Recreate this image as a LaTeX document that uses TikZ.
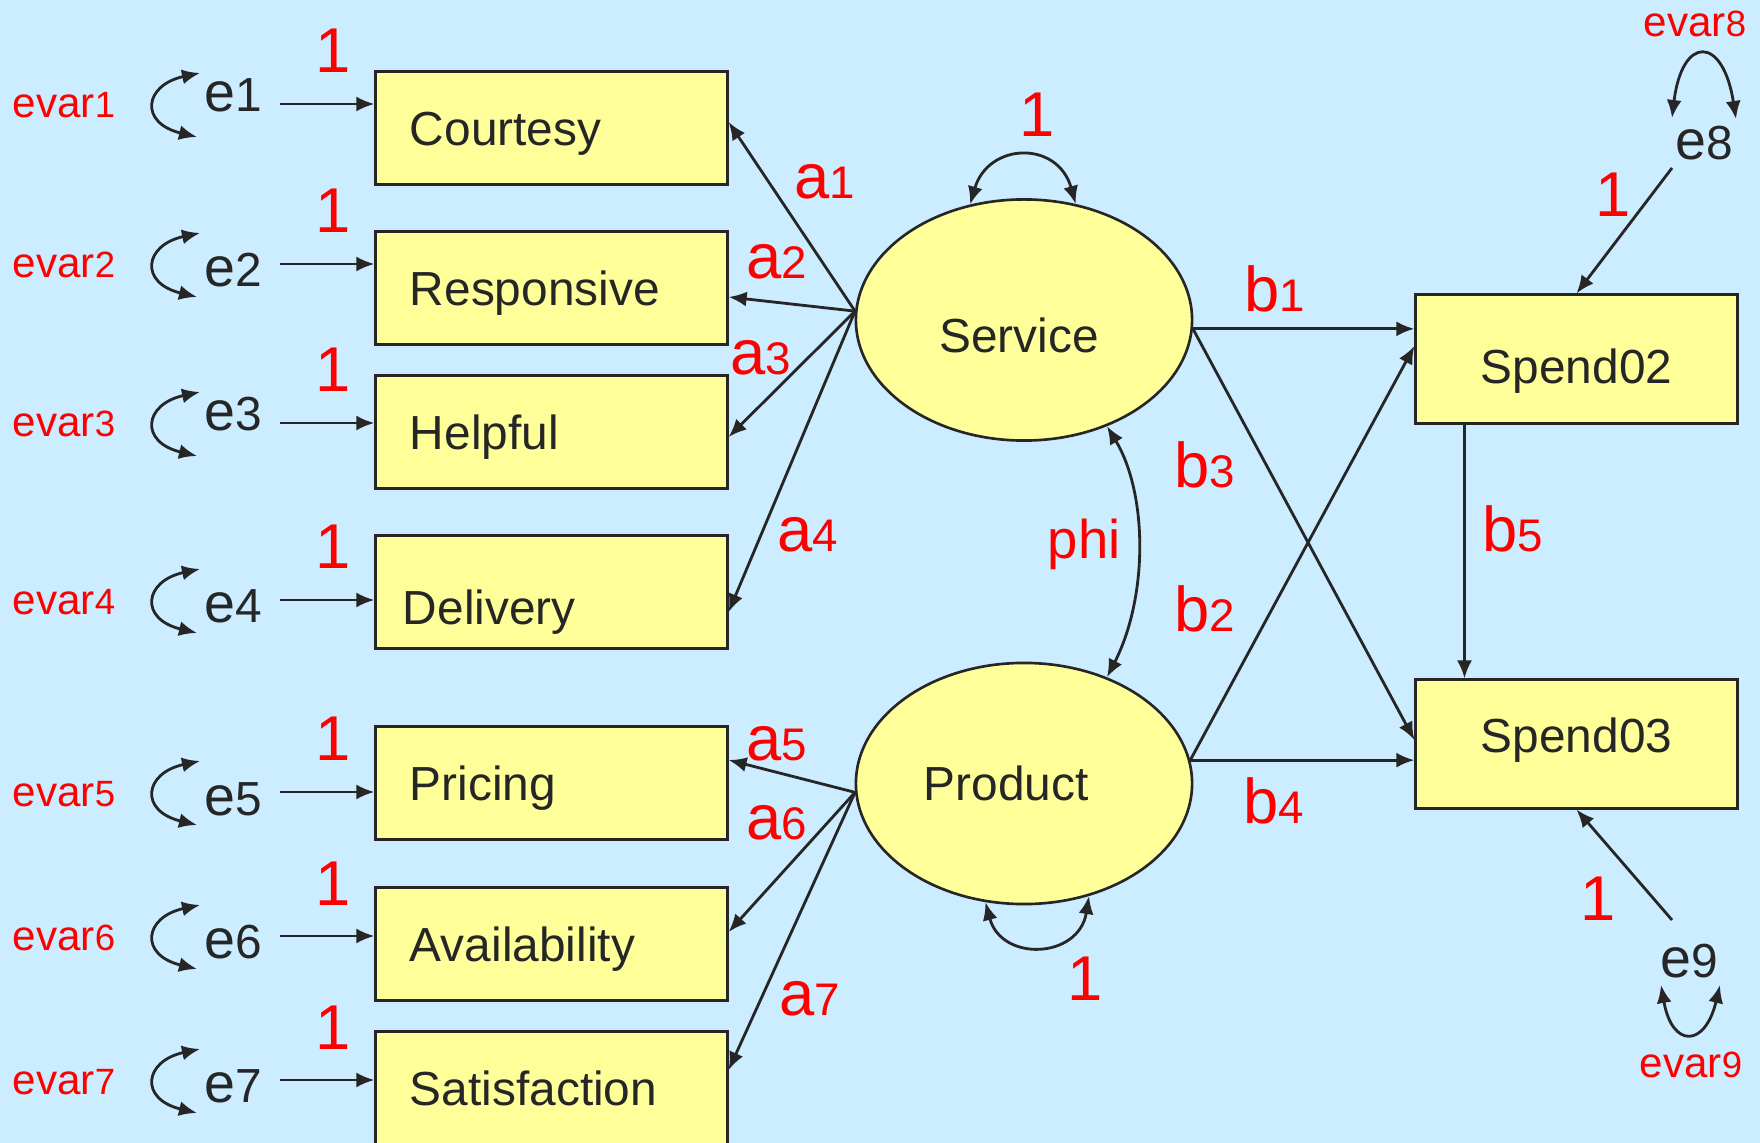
\documentclass[tikz,border=0pt]{standalone}
\usepackage{fontspec}
\setmainfont{Liberation Sans}
\usetikzlibrary{arrows.meta}
\usetikzlibrary{calc}
\usetikzlibrary{shapes.geometric}
\definecolor{bgblue}{RGB}{204,236,255}
\definecolor{boxyellow}{RGB}{255,255,153}
\definecolor{ink}{RGB}{38,38,38}
\definecolor{parred}{RGB}{255,0,0}

% letters and index digit in two sizes
\newcommand{\twosize}[4]{{\fontsize{#1}{#1}\selectfont #3}{\fontsize{#2}{#2}\selectfont #4}}

\tikzset{
  obs/.style={rectangle,draw=ink,line width=0.85pt,fill=boxyellow,text=ink,
    minimum width=3.51cm,minimum height=1.12cm,inner sep=0pt,
    font=\fontsize{13.6}{16}\selectfont,text depth=0.1cm,text height=0.44cm},
  leftbox/.style={obs,text width=2.83cm,align=left},
  latent/.style={ellipse,draw=ink,line width=0.75pt,fill=boxyellow,text=ink,
    minimum width=3.36cm,minimum height=2.41cm,inner sep=0pt,
    font=\fontsize{13.6}{16}\selectfont,text depth=0.1cm,text height=0.44cm},
  arrowline/.style={draw=ink,line width=0.8pt,-{Latex[length=0.18cm,width=0.15cm]}},
  cov/.style={draw=ink,line width=0.8pt,{Latex[length=0.18cm,width=0.15cm]}-{Latex[length=0.18cm,width=0.15cm]}},
  coef/.style={text=parred,inner sep=0pt,anchor=base west},
  fixone/.style={text=parred,inner sep=0pt,anchor=base,font=\fontsize{18}{18}\selectfont},
  errname/.style={text=ink,inner sep=0pt,anchor=base west},
}

\begin{document}
\begin{tikzpicture}[x=0.01cm,y=-0.01cm]

  \fill[bgblue] (0,0) rectangle (1760,1143);
  \useasboundingbox (0,0) rectangle (1760,1143);

  % indicators
  \node[leftbox] (courtesy) at (551.5,128) {Courtesy};
  \node[leftbox] (responsive) at (551.5,288) {Responsive};
  \node[leftbox] (helpful) at (551.5,432) {Helpful};
  \node[leftbox,text width=2.97cm,text height=0.74cm] (delivery) at (551.5,592) {Delivery};
  \node[leftbox] (pricing) at (551.5,783) {Pricing};
  \node[leftbox] (availability) at (551.5,944) {Availability};
  \node[leftbox] (satisfaction) at (551.5,1088) {Satisfaction};

  \node[obs,minimum width=3.21cm,minimum height=1.28cm,text height=0.58cm] (spend02) at (1576.5,359) {Spend02};
  \node[obs,minimum width=3.21cm,minimum height=1.28cm,text height=0.26cm] (spend03) at (1576.5,744) {Spend03};

  \node[latent,text height=0.74cm] (service) at (1024,320) {Service\hspace*{0.1cm}};
  \node[latent] (product) at (1024,783.5) {Product\hspace*{0.36cm}};

  % error terms
  \foreach \i/\Y/\eb/\bx in {1/104/112/courtesy,2/264/287/responsive,3/423/431/helpful,
      4/600/623/delivery,5/792/815/pricing,6/936/958/availability,7/1080/1102/satisfaction}
  {
    \coordinate (s\i) at (280,\Y);
    \node[errname] (e\i) at (204,\eb) {\twosize{15.8}{13.6}{e}{\i}};
    \node[coef] (evar\i) at (12,\Y+14) {\twosize{12}{10.4}{evar}{\i}};
    \node[fixone] (one\i) at (333,\Y-31) {1};
    \draw[arrowline] (s\i) -- (s\i -| \bx.west);
    \draw[cov] ($(s\i)+(-80,-31)$) .. controls +(-56,12) and +(-58,-14) .. ($(s\i)+(-83,33)$);
  }

  % loadings
  \foreach \bx/\dy in {courtesy/-6,responsive/9,helpful/5,delivery/20}
    \draw[arrowline] (service.177) -- ($(\bx.east)+(0,\dy)$);
  \foreach \bx/\dy in {pricing/-23,availability/-12,satisfaction/-18}
    \draw[arrowline] (product.183) -- ($(\bx.east)+(0,\dy)$);

  \node[coef] (a1) at (794,199) {\twosize{18}{13}{a}{1}};
  \node[coef] (a2) at (746,279) {\twosize{18}{13}{a}{2}};
  \node[coef] (a3) at (730,375) {\twosize{18}{13}{a}{3}};
  \node[coef] (a4) at (777,552) {\twosize{18}{13}{a}{4}};
  \node[coef] (a5) at (746,760) {\twosize{18}{13}{a}{5}};
  \node[coef] (a6) at (746,839) {\twosize{18}{13}{a}{6}};
  \node[coef] (a7) at (779,1015) {\twosize{18}{13}{a}{7}};

  % structural paths
  \draw[arrowline] (service.-3) -- (service.-3 -| spend02.west);
  \draw[arrowline] (service.-3) -- ($(spend03.west)+(0,-4)$);
  \draw[arrowline] (product.8) -- ($(spend02.west)+(0,-13)$);
  \draw[arrowline] (product.8) -- (product.8 -| spend03.west);
  \draw[arrowline] ($(spend02.south)+(-112,0)$) -- ($(spend03.north)+(-112,0)$);

  \node[coef] (b1) at (1244,312) {\twosize{18}{13}{b}{1}};
  \node[coef] (b3) at (1174,488) {\twosize{18}{13}{b}{3}};
  \node[coef] (b2) at (1174,632) {\twosize{18}{13}{b}{2}};
  \node[coef] (b4) at (1243,823) {\twosize{18}{13}{b}{4}};
  \node[coef] (b5) at (1482,551) {\twosize{18}{13}{b}{5}};

  % variances and covariance of the factors
  \draw[cov] (service.115) .. controls +(18,-62) and +(-18,-64) .. (service.66);
  \node[fixone] (oneS) at (1037,137) {1};
  \draw[cov] (product.-108) .. controls +(16,60) and +(-10,63) .. (product.-60);
  \node[fixone] (oneP) at (1085,1000) {1};
  \draw[cov] (service.-52) .. controls +(41,68) and +(41,-80) .. (product.52);
  \node[coef,font=\fontsize{15.5}{16}\selectfont] (phi) at (1047,559) {phi};

  % disturbances
  \node[errname] (e8) at (1675,160) {\twosize{15.8}{13.6}{e}{8}};
  \node[coef] (evar8) at (1643,37) {\twosize{12}{10.4}{evar}{8}};
  \coordinate (s8) at (1672,168);
  \draw[arrowline] (s8) -- (spend02.north);
  \draw[cov] (1672,118) .. controls +(10,-83) and +(-13,-84) .. (1736,119);
  \node[fixone] (one8) at (1613,217) {1};

  \node[errname] (e9) at (1660,977) {\twosize{15.8}{13.6}{e}{9}};
  \node[coef] (evar9) at (1639,1077) {\twosize{12}{10.4}{evar}{9}};
  \coordinate (s9) at (1672,920);
  \draw[arrowline] (s9) -- (spend03.south);
  \draw[cov] (1661,985) .. controls +(11,63) and +(-15,63) .. (1720,985);
  \node[fixone] (one9) at (1598,920) {1};

\end{tikzpicture}
\end{document}
